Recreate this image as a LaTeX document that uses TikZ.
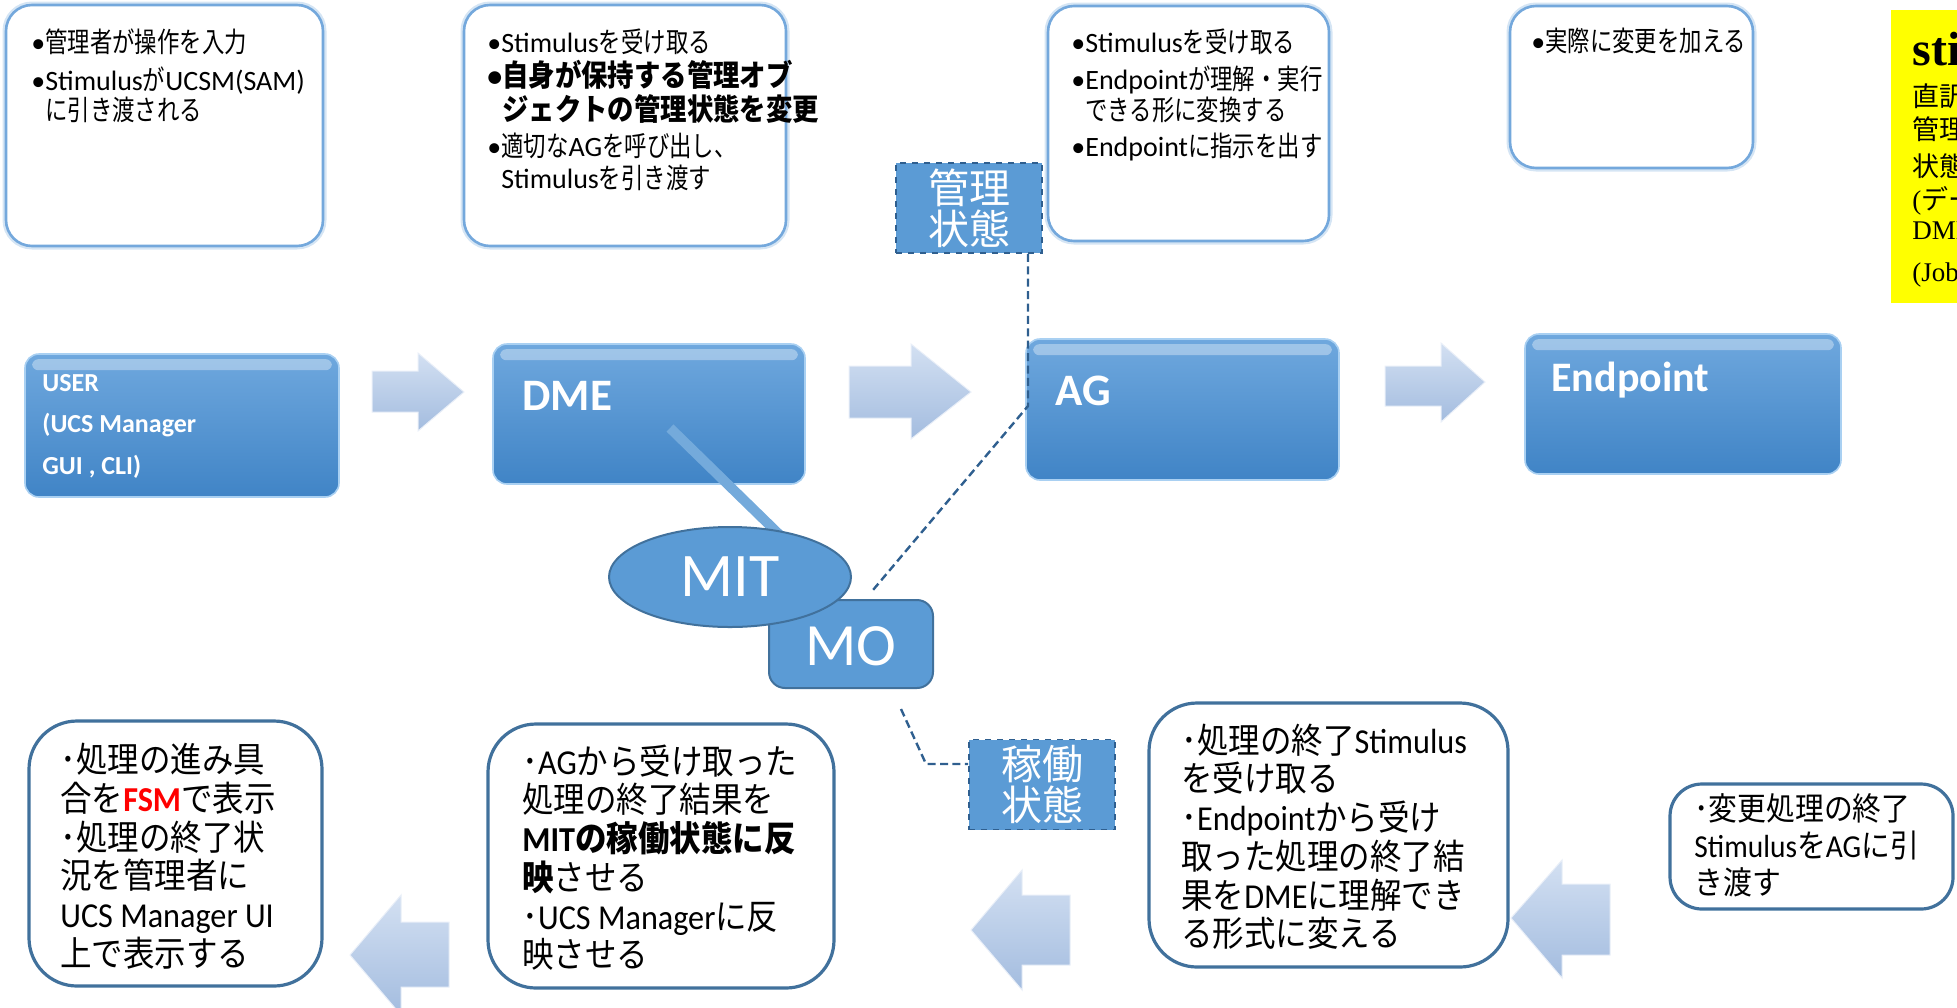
\documentclass[tikz,border=0pt]{standalone}
\usepackage{fontspec}
\usetikzlibrary{fit,calc,shapes.geometric}
\setmainfont{Carlito}
% Japanese faces: condensed regular for the upper notes, a wider one for bold lines
\newfontfamily\jpreg[FakeStretch=0.8]{Noto Sans CJK JP}
\newfontfamily\jpbold[FakeStretch=0.88]{Noto Sans CJK JP}
\newfontfamily\jpbot[FakeStretch=0.9]{Noto Sans CJK JP}
\newfontfamily\jpwide{Noto Sans CJK JP}
% Latin faces
\newfontfamily\carl{Carlito}
\newfontfamily\carln[FakeStretch=0.92]{Carlito}
\newfontfamily\serifrm{Liberation Serif}
\newcommand\lt[1]{{\carl #1}}
\newcommand\ltn[1]{{\carln #1}}
\newcommand\dotmark{･}

\definecolor{boxblue}{HTML}{5B9BD5}
\definecolor{darkblue}{HTML}{41719C}
\definecolor{topedge}{HTML}{74A8DC}
\definecolor{dashblue}{HTML}{2F5F8F}
\definecolor{arrowtop}{HTML}{D3E0F2}
\definecolor{arrowbot}{HTML}{A3BCDF}
\definecolor{midtop}{HTML}{6FA8DE}
\definecolor{midbot}{HTML}{4084C6}
\definecolor{midedge}{HTML}{A9D0F2}
\definecolor{noteyellow}{HTML}{FFFF00}

\begin{document}
\begin{tikzpicture}[x=0.5pt,y=-0.5pt,
  topbox/.style={draw=topedge, line width=1.3pt, rounded corners=13pt, fill=white,
    inner sep=0pt, preaction={draw=topedge!30, line width=3.5pt}},
  botbox/.style={draw=darkblue, line width=1.6pt, rounded corners=24pt, fill=white, inner sep=0pt},
  midbox/.style={draw=midedge, line width=0.8pt, rounded corners=7pt, inner sep=0pt,
    top color=midtop, bottom color=midbot},
  statebox/.style={draw=dashblue, dashed, line width=0.9pt, fill=boxblue, inner sep=0pt,
    minimum width=73pt, minimum height=45pt, align=center, text=white,
    font=\jpwide\fontsize{20.5pt}{20.5pt}\selectfont},
  dashline/.style={draw=dashblue, dash pattern=on 4pt off 2.2pt, line width=1.2pt},
  blockarrow/.style={top color=arrowtop, bottom color=arrowbot, draw=white!50!arrowtop, line width=0.5pt},
  tline/.style={anchor=base west, inner sep=0pt, font=\jpreg\fontsize{14pt}{16pt}\selectfont},
  tbold/.style={anchor=base west, inner sep=0pt, font=\jpbold\bfseries\fontsize{15pt}{17pt}\selectfont},
  bline/.style={anchor=base west, inner sep=0pt, font=\jpbot\fontsize{17.5pt}{19pt}\selectfont},
  sline/.style={anchor=base west, inner sep=0pt, font=\jpbot\fontsize{16pt}{18pt}\selectfont},
  midlabel/.style={anchor=base west, inner sep=0pt, text=white},
  yline/.style={anchor=base west, inner sep=0pt, font=\jpwide\fontsize{13.5pt}{15pt}\selectfont}
]
\useasboundingbox (0,0) rectangle (1957,1007);
\clip (0,0) rectangle (1957,1007);

% ---------- top row: notes ----------
\node[topbox, fit={(6,5) (323,246)}] (note1) {};
\node[tline] (n1a) at (31,52) {\lt{•}管理者が操作を入力};
\node[tline] (n1b) at (31,90) {\lt{•Stimulus}が\lt{UCSM(SAM)}};
\node[tline] (n1c) at (31,120) {\lt{\hphantom{•}}に引き渡される};

\node[topbox, fit={(464,5) (786,246)}] (note2) {};
\node[tline] (n2a) at (487,52) {\lt{•Stimulus}を受け取る};
\node[tbold] (n2b) at (487,86) {\lt{•}自身が保持する管理オブ};
\node[tbold] (n2c) at (487,120) {\lt{\hphantom{•}}ジェクトの管理状態を変更};
\node[tline] (n2d) at (487,156) {\lt{•}適切な\lt{AG}を呼び出し、};
\node[tline] (n2e) at (487,188) {\lt{\hphantom{•}Stimulus}を引き渡す};

\node[topbox, fit={(1048,6) (1329,241)}] (note3) {};
\node[tline] (n3a) at (1071,52) {\lt{•Stimulus}を受け取る};
\node[tline] (n3b) at (1071,89) {\lt{•Endpoint}が理解・実行};
\node[tline] (n3c) at (1071,120) {\lt{\hphantom{•}}できる形に変換する};
\node[tline] (n3d) at (1071,156) {\lt{•Endpoint}に指示を出す};

\node[topbox, fit={(1510,6) (1753,168)}] (note4) {};
\node[tline] (n4a) at (1531,51) {\lt{•}実際に変更を加える};

% glossary note on the right edge
\node[fill=noteyellow, inner sep=0pt, fit={(1891,10) (2010,303)}] (gloss) {};
\node[anchor=base west, inner sep=0pt, font=\serifrm\bfseries\fontsize{24pt}{26pt}\selectfont] (g0) at (1912,65) {stimulus};
\node[yline] (g1) at (1912,106) {直訳};
\node[yline] (g2) at (1912,139) {管理};
\node[yline] (g3) at (1912,176) {状態};
\node[yline] (g4) at (1912,209) {\serifrm(\jpwide デー};
\node[yline] (g5) at (1912,239) {\serifrm DME};
\node[yline] (g6) at (1912,281) {\serifrm (Job};

% ---------- middle row: components ----------
\node[midbox, fit={(25,354) (339,497)}] (user) {};
\node[midbox, fit={(493,344) (805,484)}] (dme) {};
\node[midbox, fit={(1026,339) (1339,480)}] (ag) {};
\node[midbox, fit={(1525,334) (1841,474)}] (endp) {};
\foreach \b in {user,dme,ag,endp}{
  \fill[white, opacity=0.35, rounded corners=3pt]
    ($(\b.north west)+(8,6)$) rectangle ($(\b.north east)+(-8,17)$);
}
\node[midlabel, font=\bfseries\fontsize{13pt}{15pt}\selectfont] (u1) at (42,391) {USER};
\node[midlabel, font=\bfseries\fontsize{13pt}{15pt}\selectfont] (u2) at (42,432) {(UCS Manager};
\node[midlabel, font=\bfseries\fontsize{13pt}{15pt}\selectfont] (u3) at (42,474) {GUI , CLI)};
\node[midlabel, font=\bfseries\fontsize{22.5pt}{25pt}\selectfont] (dmel) at (522,410) {DME};
\node[midlabel, font=\bfseries\fontsize{22.5pt}{25pt}\selectfont] (agl) at (1055,405) {AG};
\node[midlabel, font=\bfseries\fontsize{21pt}{24pt}\selectfont] (endl) at (1551,391) {Endpoint};

% flow arrows, left to right
\path[blockarrow] (372,371) -- (418,371) -- (418,353) -- (464,392) -- (418,431) -- (418,412) -- (372,412) -- cycle;
\path[blockarrow] (849,366) -- (911,366) -- (911,344) -- (971,392) -- (911,439) -- (911,418) -- (849,418) -- cycle;
\path[blockarrow] (1385,366) -- (1441,366) -- (1441,343) -- (1485,382) -- (1441,422) -- (1441,406) -- (1385,406) -- cycle;

% ---------- state labels and MIT ----------
\node[statebox] (kanri) at (969,208) {管理\\状態};
\node[statebox] (kadou) at (1042,784.5) {稼働\\状態};

\coordinate (dmetail) at (670,428);
\coordinate (mithead) at (790,545);
\draw[line width=5pt, boxblue!85!white] (dmetail) -- (mithead);

\node[draw=darkblue, line width=1pt, fill=boxblue, rounded corners=8pt, inner sep=0pt,
  fit={(769,600) (933,688)}] (mo) {};
\node[text=white, font=\fontsize{30pt}{32pt}\selectfont, inner sep=0pt] (mol) at (851,646) {MO};
\node[ellipse, draw=darkblue, line width=1pt, fill=boxblue, minimum width=121pt, minimum height=50pt,
  inner sep=0pt, text=white, font=\fontsize{31pt}{33pt}\selectfont] (mit) at (730,577) {MIT};

\coordinate (kbend) at (1028,406);
\coordinate (kend) at (873,590);
\draw[dashline] (kanri.south -| kbend) -- (kbend) -- (kend);
\coordinate (mstart) at (901,709);
\coordinate (mbend) at (926,764);
\draw[dashline] (mstart) -- (mbend) -- (mbend -| kadou.west);

% ---------- bottom row: results ----------
\node[botbox, fit={(29,721) (322,986)}] (res1) {};
\node[bline] (r1a) at (60,772) {\dotmark 処理の進み具};
\node[bline] (r1b) at (60,811) {合を\ltn{\bfseries\color{red}FSM}で表示};
\node[bline] (r1c) at (60,850) {\dotmark 処理の終了状};
\node[bline] (r1d) at (60,888) {況を管理者に};
\node[bline] (r1e) at (60,927) {\ltn{UCS Manager UI}};
\node[bline] (r1f) at (60,966) {上で表示する};

\node[botbox, fit={(488,724) (834,988)}] (res2) {};
\node[bline] (r2a) at (522,774) {\dotmark\ltn{AG}から受け取った};
\node[bline] (r2b) at (522,812) {処理の終了結果を};
\node[bline] (r2c) at (522,851) {\bfseries\ltn{MIT}の稼働状態に反};
\node[bline] (r2d) at (522,890) {{\bfseries 映}させる};
\node[bline] (r2e) at (522,929) {\dotmark\ltn{UCS Manager}に反};
\node[bline] (r2f) at (522,967) {映させる};

\node[botbox, fit={(1149,703) (1508,967)}] (res3) {};
\node[bline] (r3a) at (1181,753) {\dotmark 処理の終了\ltn{Stimulus}};
\node[bline] (r3b) at (1181,791) {を受け取る};
\node[bline] (r3c) at (1181,830) {\dotmark\ltn{Endpoint}から受け};
\node[bline] (r3d) at (1181,869) {取った処理の終了結};
\node[bline] (r3e) at (1181,908) {果を\ltn{DME}に理解でき};
\node[bline] (r3f) at (1181,946) {る形式に変える};

\node[botbox, rounded corners=16pt, fit={(1670,784) (1953,909)}] (res4) {};
\node[sline] (r4a) at (1694,820) {\dotmark 変更処理の終了};
\node[sline] (r4b) at (1694,857) {\ltn{Stimulus}を\ltn{AG}に引};
\node[sline] (r4c) at (1694,894) {き渡す};

% flow arrows, right to left
\path[blockarrow] (449,922) -- (401,922) -- (401,895) -- (350,955) -- (401,1015) -- (401,987) -- (449,987) -- cycle;
\path[blockarrow] (1070,895) -- (1022,895) -- (1022,870) -- (971,930) -- (1022,990) -- (1022,965) -- (1070,965) -- cycle;
\path[blockarrow] (1610,884) -- (1562,884) -- (1562,860) -- (1511,918) -- (1562,978) -- (1562,955) -- (1610,955) -- cycle;
\end{tikzpicture}
\end{document}
